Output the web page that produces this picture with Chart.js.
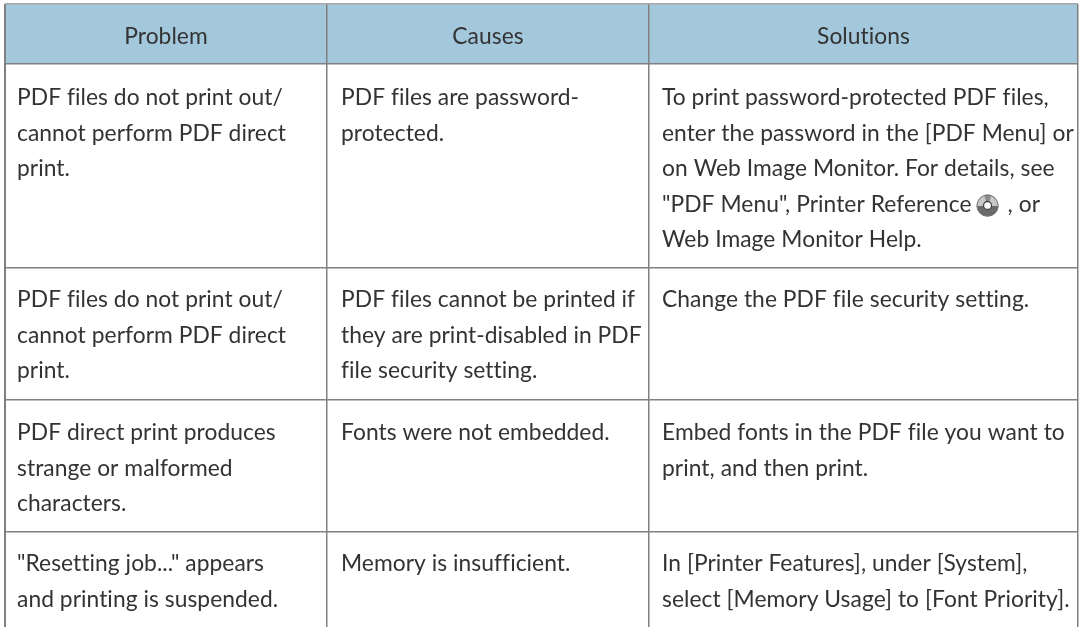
<!DOCTYPE html>
<html>
<head>
<meta charset="utf-8">
<title>Troubleshooting table</title>
<script src="https://cdn.jsdelivr.net/npm/chart.js@4/dist/chart.umd.js"></script>
<style>
    html, body { margin: 0; padding: 0; background: #fff; overflow: hidden; }
    canvas { display: block; }
</style>
</head>
<body>
<canvas id="tableChart" width="1079" height="627"></canvas>
<script>
// table geometry
const columnEdges = [5, 327, 649, 1078];
const rowEdges = [4, 64, 268, 400, 532];
const textLeft = [17, 341, 662];
const firstBaseline = [105, 307, 440, 571];
const headerBaseline = 44;

const headers = ['Problem', 'Causes', 'Solutions'];

const problems = [
    ['PDF files do not print out/', 'cannot perform PDF direct', 'print.'],
    ['PDF files do not print out/', 'cannot perform PDF direct', 'print.'],
    ['PDF direct print produces', 'strange or malformed', 'characters.'],
    ['"Resetting job..." appears', 'and printing is suspended.']
];

const causes = [
    ['PDF files are password-', 'protected.'],
    ['PDF files cannot be printed if', 'they are print-disabled in PDF', 'file security setting.'],
    ['Fonts were not embedded.'],
    ['Memory is insufficient.']
];

// | marks where the CD icon sits in the line
const solutions = [
    ['To print password-protected PDF files,', 'enter the password in the [PDF Menu] or', 'on Web Image Monitor. For details, see', '"PDF Menu", Printer Reference|, or', 'Web Image Monitor Help.'],
    ['Change the PDF file security setting.'],
    ['Embed fonts in the PDF file you want to', 'print, and then print.'],
    ['In [Printer Features], under [System],', 'select [Memory Usage] to [Font Priority].']
];

const textColor = '#333333';
const fontFamily = 'Lato, sans-serif';
const fontSize = 24;
const squeeze = 0.95;
const linePitch = 35.5;
const iconRadius = 11;

function drawCd(ctx, cx, cy) {
    ctx.save();
    ctx.fillStyle = '#c8c8c8';
    ctx.beginPath(); ctx.arc(cx, cy, iconRadius, 0, Math.PI * 2); ctx.fill();
    ctx.fillStyle = '#6a6a6a';
    ctx.beginPath(); ctx.arc(cx, cy, iconRadius, 0.05, Math.PI - 0.05); ctx.fill();
    // darker wedge on the top half
    ctx.fillStyle = '#8c8c8c';
    ctx.beginPath(); ctx.moveTo(cx, cy); ctx.arc(cx, cy, iconRadius, -1.9, -1.2); ctx.fill();
    ctx.strokeStyle = '#777777';
    ctx.lineWidth = 1;
    ctx.beginPath(); ctx.arc(cx, cy, iconRadius - 0.5, 0, Math.PI * 2); ctx.stroke();
    ctx.fillStyle = '#ffffff';
    ctx.beginPath(); ctx.arc(cx, cy, 4, 0, Math.PI * 2); ctx.fill();
    ctx.strokeStyle = '#444444';
    ctx.lineWidth = 1.3;
    ctx.beginPath(); ctx.arc(cx, cy, 4, 0, Math.PI * 2); ctx.stroke();
    ctx.restore();
}

const tableText = {
    id: 'tableText',
    afterDraw(chart) {
        const { ctx, scales: { x, y } } = chart;

        function put(text, px, py, center) {
            ctx.save();
            ctx.font = `${fontSize}px ${fontFamily}`;
            ctx.letterSpacing = '0.05px'; // keeps Lato from joining fi and ti
            ctx.fillStyle = textColor;
            ctx.textBaseline = 'alphabetic';
            ctx.translate(px, py);
            ctx.scale(squeeze, 1);
            ctx.textAlign = center ? 'center' : 'left';
            ctx.fillText(text, 0, 0);
            const width = ctx.measureText(text).width * squeeze;
            ctx.restore();
            return width;
        }

        // header row
        headers.forEach((h, c) => {
            const mid = (x.getPixelForValue(columnEdges[c]) + x.getPixelForValue(columnEdges[c + 1])) / 2;
            put(h, mid, y.getPixelForValue(headerBaseline), true);
        });

        // body rows
        [problems, causes, solutions].forEach((column, c) => {
            column.forEach((lines, r) => {
                lines.forEach((line, i) => {
                    const px = x.getPixelForValue(textLeft[c]);
                    const py = y.getPixelForValue(firstBaseline[r] + i * linePitch);
                    const parts = line.split('|');
                    const width = put(parts[0], px, py, false);
                    if (parts.length > 1) {
                        drawCd(ctx, px + width + 16, py - 6);
                        put(parts[1], px + width + 36, py, false);
                    }
                });
            });
        });
    }
};

new Chart(document.getElementById('tableChart'), {
    type: 'scatter',
    data: {
        datasets: [{
            // header band
            data: [
                { x: columnEdges[0], y: rowEdges[1] },
                { x: columnEdges[3], y: rowEdges[1] }
            ],
            showLine: true,
            borderWidth: 0,
            pointRadius: 0,
            backgroundColor: '#a3c7db',
            fill: { value: rowEdges[0] }
        }]
    },
    plugins: [tableText],
    options: {
        responsive: false,
        animation: false,
        layout: { padding: { left: 5, top: 4, right: 1, bottom: 0 } },
        plugins: { legend: { display: false }, tooltip: { enabled: false } },
        scales: {
            x: {
                type: 'linear',
                min: columnEdges[0],
                max: columnEdges[3],
                afterBuildTicks: (axis) => { axis.ticks = columnEdges.map(v => ({ value: v })); },
                ticks: { display: false },
                border: { display: false },
                grid: { z: 1, color: '#808080', lineWidth: (c) => (c.index === 0 ? 2 : 1.5), drawTicks: false }
            },
            y: {
                type: 'linear',
                reverse: true,
                min: rowEdges[0],
                max: 627,
                afterBuildTicks: (axis) => { axis.ticks = rowEdges.map(v => ({ value: v })); },
                ticks: { display: false },
                border: { display: false },
                grid: {
                    z: 1,
                    color: (c) => (c.index === 0 ? '#a8a8a8' : '#808080'),
                    lineWidth: 1.5,
                    drawTicks: false
                }
            }
        }
    }
});
</script>
</body>
</html>
